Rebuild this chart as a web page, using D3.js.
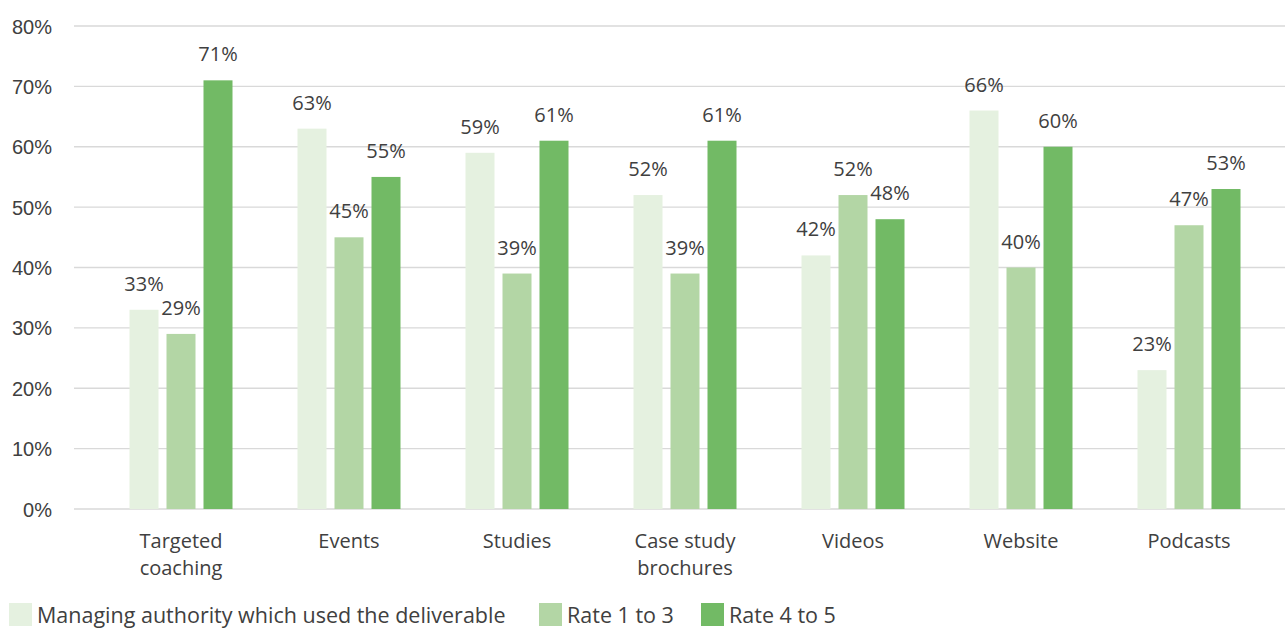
<!DOCTYPE html>
<html>
<head>
<meta charset="utf-8">
<script src="https://cdn.jsdelivr.net/npm/d3@7"></script>
<style>
  html, body { margin: 0; padding: 0; background: #fff; }
  svg { display: block; font-family: "Open Sans", "Noto Sans", sans-serif; }
</style>
</head>
<body>
<svg id="chart" width="1285" height="630"></svg>
<script>
// Deliverables and the three survey measures, in percent
const categories = ["Targeted coaching", "Events", "Studies", "Case study brochures", "Videos", "Website", "Podcasts"];
const categoryLines = [["Targeted", "coaching"], ["Events"], ["Studies"], ["Case study", "brochures"], ["Videos"], ["Website"], ["Podcasts"]];
const seriesNames = ["Managing authority which used the deliverable", "Rate 1 to 3", "Rate 4 to 5"];
const usedValues = [33, 63, 59, 52, 42, 66, 23];
const rate13Values = [29, 45, 39, 39, 52, 40, 47];
const rate45Values = [71, 55, 61, 61, 48, 60, 53];
const yTicks = [0, 10, 20, 30, 40, 50, 60, 70, 80];

const seriesValues = [usedValues, rate13Values, rate45Values];
const colors = ["#e5f1e0", "#b3d6a5", "#72ba65"];
const textColor = "#404040";

const svg = d3.select("#chart");

const gridLeft = 74, gridRight = 1285;
const y = d3.scaleLinear().domain([0, 80]).range([509, 26]);
const x0 = d3.scaleBand().domain(categories).range([97, 1273]).paddingInner(0).paddingOuter(0);
// three bars of ~29px with ~8px gaps, centred in each band
const barW = 29, barGap = 8;
const groupW = barW * 3 + barGap * 2;
const x1 = d3.scaleBand().domain(d3.range(3))
  .range([x0.bandwidth() / 2 - groupW / 2, x0.bandwidth() / 2 + groupW / 2])
  .paddingInner(barGap / (barW + barGap)).paddingOuter(0);

// gridlines
svg.append("g")
  .selectAll("line")
  .data(yTicks)
  .join("line")
  .attr("x1", gridLeft).attr("x2", gridRight)
  .attr("y1", d => y(d)).attr("y2", d => y(d))
  .attr("stroke", "#d9d9d9").attr("stroke-width", 1.3);

// y axis labels
const yAxis = d3.axisLeft(y).tickValues(yTicks).tickFormat(d => d + "%").tickSize(0).tickPadding(0);
const yg = svg.append("g").attr("transform", "translate(52,0)").call(yAxis);
yg.select(".domain").remove();
yg.selectAll("text").attr("fill", textColor).style("font-size", "20px").attr("dy", "0.35em");

// bars
const groups = svg.append("g")
  .selectAll("g")
  .data(categories)
  .join("g")
  .attr("transform", d => `translate(${x0(d)},0)`);

groups.each(function (cat, ci) {
  const g = d3.select(this);
  const vals = seriesValues.map(s => s[ci]);
  g.selectAll("rect")
    .data(vals)
    .join("rect")
    .attr("x", (d, i) => x1(i))
    .attr("width", x1.bandwidth())
    .attr("y", d => y(d))
    .attr("height", d => y(0) - y(d))
    .attr("fill", (d, i) => colors[i]);
  g.selectAll("text.val")
    .data(vals)
    .join("text")
    .attr("class", "val")
    .attr("x", (d, i) => x1(i) + x1.bandwidth() / 2)
    .attr("y", d => y(d) - 19)
    .attr("text-anchor", "middle")
    .attr("fill", textColor)
    .style("font-size", "20px")
    .text(d => d + "%");
});

// category labels
const xg = svg.append("g");
categories.forEach((cat, ci) => {
  const cx = x0(cat) + x0.bandwidth() / 2;
  const t = xg.append("text")
    .attr("x", cx)
    .attr("y", 548)
    .attr("text-anchor", "middle")
    .attr("fill", textColor)
    .style("font-size", "20px");
  categoryLines[ci].forEach((line, li) => {
    t.append("tspan")
      .attr("x", cx)
      .attr("dy", li === 0 ? 0 : 27)
      .text(line);
  });
});

// legend
const legendX = [9, 539, 701];
const legend = svg.append("g");
seriesNames.forEach((name, i) => {
  legend.append("rect")
    .attr("x", legendX[i]).attr("y", 603)
    .attr("width", 23).attr("height", 23)
    .attr("fill", colors[i]);
  legend.append("text")
    .attr("x", legendX[i] + 28).attr("y", 623)
    .attr("fill", textColor)
    .style("font-size", "21.5px")
    .text(name);
});
</script>
</body>
</html>
